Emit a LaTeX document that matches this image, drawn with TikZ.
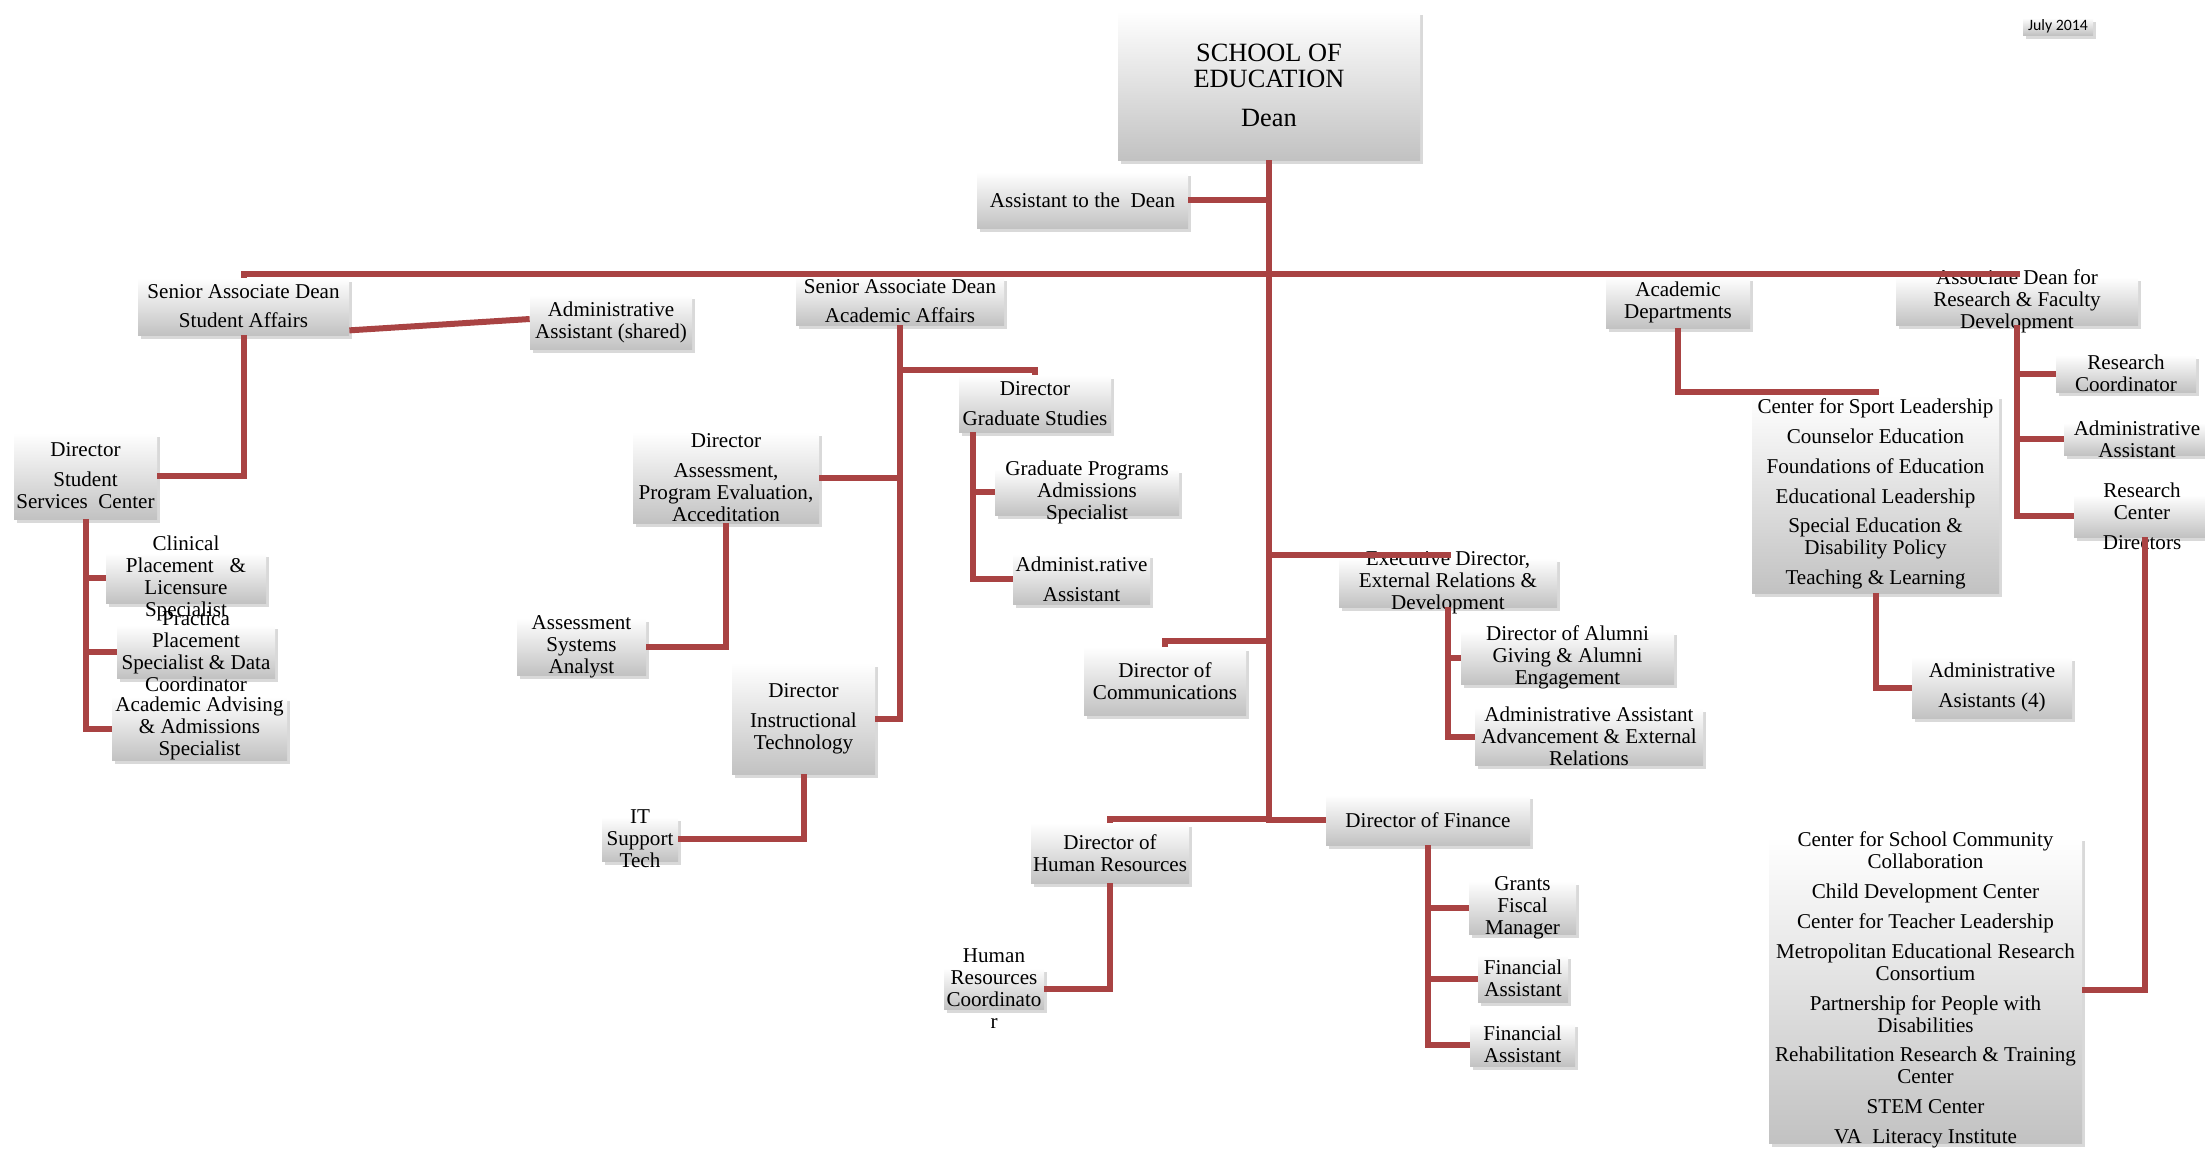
\documentclass[tikz,border=0pt]{standalone}
\usepackage{fontspec}
\setmainfont{Liberation Serif}
\newfontfamily\datefont{Carlito}
\usepackage{tikz}
\usetikzlibrary{fit, calc, shadows}

\definecolor{linkred}{RGB}{169,67,67}
% box with its text: [text style]{name}{corner}{corner}{text}
\newcommand{\orgbox}[5][]{%
  \node[orgbox, fit={#3 #4}] (#2) {};
  \node[orgtext, #1] (#2-text) at (#2.center) {#5};
}

\begin{document}
\begin{tikzpicture}[x=0.2mm, y=-0.2mm,
    orgbox/.style={rectangle, inner sep=0pt, draw=none,
      top color=white, bottom color=black!24,
      drop shadow={opacity=0.3, shadow xshift=0.5mm, shadow yshift=-0.7mm}},
    orgtext/.style={align=center, inner sep=0pt, font=\fontsize{12}{12.5}\selectfont},
    link/.style={draw=linkred, line width=1.2mm}]
    \useasboundingbox (0,0) rectangle (2205,1151);

    % Dean
    \orgbox[font=\fontsize{15}{14.7}\selectfont]{dean}{(1118,11)}{(1420,160)}{SCHOOL OF\\EDUCATION\\[8pt]Dean}
    \orgbox[font=\datefont\fontsize{9}{10}\selectfont]{date}{(2023,18)}{(2093,35)}{July 2014}
    \orgbox{asst}{(977,172)}{(1188,228)}{Assistant to the\ \ Dean}

    % Student Affairs
    \orgbox{sa}{(138,278)}{(349,335)}{Senior Associate Dean\\[4pt]Student Affairs}
    \orgbox{aas}{(530,295)}{(692,349)}{Administrative\\Assistant (shared)}
    \orgbox{ssc}{(14,433)}{(157,519)}{Director\\[4.5pt]Student\\Services\ \ Center}
    \orgbox{clin}{(106,553)}{(266,603)}{Clinical\\Placement\ \ \ \&\\Licensure\\Specialist}
    \orgbox{prac}{(117,625)}{(275,678)}{Practica\\Placement\\Specialist \& Data\\Coordinator}
    \orgbox{adv}{(112,697)}{(287,760)}{Academic Advising\\\& Admissions\\Specialist}

    % Academic Affairs
    \orgbox{saa}{(796,277)}{(1004,325)}{Senior Associate Dean\\[4pt]Academic Affairs}
    \orgbox{gs}{(959,375)}{(1111,432)}{Director\\[4.5pt]Graduate Studies}
    \orgbox{gpa}{(995,469)}{(1179,515)}{Graduate Programs\\Admissions\\Specialist}
    \orgbox{adm}{(1013,554)}{(1150,604)}{Administ.rative\\[4.5pt]Assistant}
    \orgbox{assess}{(633,432)}{(819,523)}{Director\\[4.5pt]Assessment,\\Program Evaluation,\\Acceditation}
    \orgbox{asa}{(517,618)}{(646,675)}{Assessment\\Systems\\Analyst}
    \orgbox{instr}{(732,663)}{(875,774)}{Director\\[4.5pt]Instructional\\Technology}
    \orgbox{its}{(602,817)}{(678,861)}{IT\\Support\\Tech}

    % Dean's office
    \orgbox{comm}{(1084,647)}{(1246,715)}{Director of\\Communications}
    \orgbox{exec}{(1339,558)}{(1557,607)}{Executive Director,\\External Relations \&\\Development}
    \orgbox{alumni}{(1461,631)}{(1674,684)}{Director of Alumni\\Giving \& Alumni\\Engagement}
    \orgbox{advext}{(1475,708)}{(1703,765)}{Administrative Assistant\\Advancement \& External\\Relations}
    \orgbox{fin}{(1326,795)}{(1530,845)}{Director of Finance}
    \orgbox{gfm}{(1469,881)}{(1576,934)}{Grants\\Fiscal\\Manager}
    \orgbox{fa1}{(1478,955)}{(1568,1002)}{Financial\\Assistant}
    \orgbox{fa2}{(1470,1023)}{(1575,1066)}{Financial\\Assistant}
    \orgbox{hr}{(1031,823)}{(1189,883)}{Director of\\Human Resources}
    \orgbox{hrc}{(944,968)}{(1044,1009)}{Human\\Resources\\Coordinato\\r}

    % Departments and research
    \orgbox{acad}{(1606,277)}{(1750,328)}{Academic\\Departments}
    \orgbox{depts}{(1752,395)}{(1999,593)}{Center for Sport Leadership\\[4.5pt]Counselor Education\\[4.5pt]Foundations of Education\\[4.5pt]Educational Leadership\\[4.5pt]Special Education \&\\Disability Policy\\[4.5pt]Teaching \& Learning}
    \orgbox{aaf}{(1912,657)}{(2072,718)}{Administrative\\[4.5pt]Asistants (4)}
    \orgbox{rdean}{(1896,277)}{(2138,325)}{Associate Dean for\\Research \& Faculty\\Development}
    \orgbox{rc}{(2056,355)}{(2196,392)}{Research\\Coordinator}
    \orgbox{aar}{(2064,423)}{(2210,455)}{Administrative\\Assistant}
    \orgbox{rcd}{(2074,495)}{(2210,537)}{Research\\Center\\[4.5pt]Directors}
    \orgbox{rcent}{(1769,837)}{(2082,1143)}{Center for School Community\\Collaboration\\[4.5pt]Child Development Center\\[4.5pt]Center for Teacher Leadership\\[4.5pt]Metropolitan Educational Research\\Consortium\\[4.5pt]Partnership for People with\\Disabilities\\[4.5pt]Rehabilitation Research \& Training\\Center\\[4.5pt]STEM Center\\[4.5pt]VA\ \ Literacy Institute}

    % Connectors
    \coordinate (bar) at (1269,274);
    \draw[link] (dean.south) |- (fin.west);
    \draw[link] (asst.east) -- (asst.east -| dean.south);
    \draw[link] (sa.north) |- (bar) -| (rdean.north);
    \draw[link] (bar) -| (saa.north);
    \draw[link] (bar) -| (acad.north);

    \draw[link] ($(sa.south east)+(0,-5)$) -- ($(aas.west)+(0,-3)$);
    \draw[link] (sa.south) |- (ssc.east);
    \draw[link] (ssc.south) |- (clin.west);
    \draw[link] (ssc.south) |- (prac.west);
    \draw[link] (ssc.south) |- (adv.west);

    \draw[link] (gs.north) -- ++(0,-5) -| (saa.south);
    \draw[link] (saa.south) |- (assess.east);
    \draw[link] (saa.south) |- (instr.east);
    \draw[link] ($(gs.south west)+(14,0)$) |- (gpa.west);
    \draw[link] ($(gs.south west)+(14,0)$) |- (adm.west);
    \draw[link] (assess.south) |- (asa.east);
    \draw[link] (instr.south) |- (its.east);

    \draw[link] (exec.north) -- ++(0,-3) -| (dean.south);
    \draw[link] (comm.north) -- ++(0,-6) -| (dean.south);
    \draw[link] (hr.north) -- ++(0,-4) -| (dean.south);
    \draw[link] (exec.south) |- (alumni.west);
    \draw[link] (exec.south) |- (advext.west);
    \draw[link] (hr.south) |- (hrc.east);
    \foreach \n in {gfm, fa1, fa2} {
        \draw[link] (fin.south) |- (\n.west);
    }

    \draw[link] (depts.north) -- ++(0,-3) -| (acad.south);
    \draw[link] (depts.south) |- (aaf.west);
    \foreach \n in {rc, aar, rcd} {
        \draw[link] (rdean.south) |- (\n.west);
    }
    \draw[link] ($(rcd.south)+(3,0)$) |- (rcent.east);
\end{tikzpicture}
\end{document}
